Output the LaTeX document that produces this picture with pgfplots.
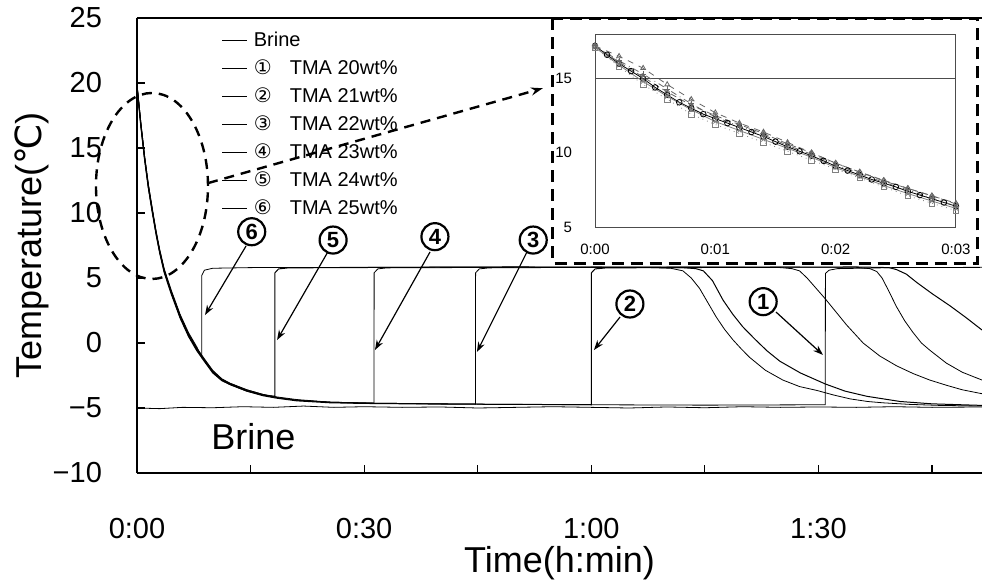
\documentclass[border=0pt]{standalone}
\usepackage{fontspec}
\setmainfont{Liberation Sans}
\newfontfamily\dejavu{DejaVu Sans}
\usepackage{pgfplots}
\pgfplotsset{compat=1.18}
\usetikzlibrary{calc,arrows.meta}

\begin{document}
\begin{tikzpicture}[
  circ/.style={circle, draw, line width=1.1pt, inner sep=0pt, minimum size=13.5pt,
               font=\bfseries\fontsize{11}{11}\selectfont},
  lab/.style={-{Stealth[length=5pt,width=3.5pt]}, line width=0.6pt},
]
\begin{axis}[
  name=main,
  scale only axis,
  width=422.5pt, height=227.5pt,
  xmin=0, xmax=111.6, ymin=-10, ymax=25,
  axis x line*=box, axis y line*=left,
  axis line style={line width=0.8pt},
  xtick={0,15,30,45,60,75,90,105},
  xticklabels={0:00,,0:30,,1:00,,1:30,},
  ytick={-10,-5,0,5,10,15,20,25},
  yticklabels={−10,−5,0,5,10,15,20,25},
  xtick pos=bottom, ytick pos=left, tick align=inside,
  major tick length=4pt,
  tick style={line width=0.6pt, black},
  ticklabel style={font=\fontsize{14.5}{16}\selectfont},
  xticklabel style={yshift=-19pt},
  yticklabel style={xshift=-14pt},
  xlabel={Time(h:min)},
  ylabel={Temperature({\dejavu ℃})},
  label style={font=\fontsize{18}{20}\selectfont},
  xlabel style={yshift=3pt},
  ylabel shift=-5pt,
  clip=false,
  cycle list={{black, solid, line width=0.5pt}},
  legend cell align=left,
  legend image code/.code={\draw[#1] (0pt,0pt) -- (12.5pt,0pt);},
  legend style={draw=none, fill=none, at={(0.100,0.976)}, anchor=north west,
    font=\fontsize{10}{11}\selectfont, row sep=2.5pt, inner sep=0pt,
    nodes={inner sep=1pt, text height=7.5pt, text depth=2pt}},
]
% Brine
\addplot coordinates {(0,-5.0)(3,-5.05)(6,-4.95)(10,-4.98)(14,-4.9)(18,-4.95)(22,-4.85)(26,-4.95)(30,-4.9)(35,-4.95)(40,-4.92)(45,-5.0)(50,-4.95)(55,-4.9)(60,-4.95)(65,-5.0)(70,-4.92)(75,-4.98)(80,-4.9)(85,-4.95)(90,-4.92)(95,-4.95)(100,-4.9)(105,-4.95)(111.6,-4.92)};
% 1: TMA 20wt%
\addplot coordinates {(0,19.8)(0.5,16.8)(1,14.2)(1.5,12.0)(2,10.2)(2.5,8.5)(3,7.0)(3.6,5.5)(4.5,3.9)(5.7,2.0)(6.8,0.6)(7.9,-0.5)(9,-1.4)(10,-2.2)(11.2,-2.8)(12.3,-3.15)(14.5,-3.65)(16.6,-4.0)(18.5,-4.2)(21.1,-4.4)(25.5,-4.55)(30,-4.62)(40,-4.68)(50,-4.72)(60,-4.75)(75,-4.78)(90.9,-4.75)(90.92,5.35)(91.4,5.6)(92.5,5.72)(100,5.8)(111.6,5.82)};
% 2: TMA 21wt%
\addplot coordinates {(0,19.7)(0.5,16.7)(1,14.1)(1.5,11.9)(2,10.1)(2.5,8.4)(3,6.9)(3.6,5.4)(4.5,3.8)(5.7,1.9)(6.8,0.5)(7.9,-0.6)(9,-1.5)(10,-2.3)(11.2,-2.9)(12.3,-3.2)(14.5,-3.7)(16.6,-4.05)(18.5,-4.25)(21.1,-4.45)(25.5,-4.6)(30,-4.65)(40,-4.7)(50,-4.72)(60,-4.75)(60.02,5.4)(60.5,5.7)(62,5.78)(80,5.82)(95,5.85)(99.3,5.8)(100.3,5.65)(101.6,5.3)(103,4.65)(105,3.8)(107.4,2.85)(109.5,1.95)(111.6,1.0)};
% 3: TMA 22wt%
\addplot coordinates {(0,19.8)(0.5,16.9)(1,14.3)(1.5,12.1)(2,10.3)(2.5,8.6)(3,7.1)(3.6,5.6)(4.5,4.0)(5.7,2.1)(6.8,0.7)(7.9,-0.4)(9,-1.3)(10,-2.1)(11.2,-2.75)(12.3,-3.1)(14.5,-3.6)(16.6,-3.95)(18.5,-4.15)(21.1,-4.35)(25.5,-4.55)(30,-4.62)(40,-4.68)(44.7,-4.7)(44.72,5.4)(45.2,5.7)(46.5,5.78)(60,5.82)(80,5.85)(95,5.82)(96.8,5.72)(97.7,5.5)(98.4,5.0)(99.2,4.1)(100.3,2.8)(101.4,1.7)(102.5,0.8)(103.6,0.0)(104.7,-0.55)(106.9,-1.55)(109,-2.25)(111.6,-2.85)};
% 4: TMA 23wt%
\addplot coordinates {(0,19.9)(0.5,17.0)(1,14.4)(1.5,12.2)(2,10.4)(2.5,8.6)(3,7.1)(3.6,5.6)(4.5,4.0)(5.7,2.1)(6.8,0.7)(7.9,-0.4)(9,-1.35)(10,-2.15)(11.2,-2.8)(12.3,-3.1)(14.5,-3.6)(16.6,-3.95)(18.5,-4.2)(21.1,-4.4)(25.5,-4.55)(31.3,-4.62)(31.32,5.4)(31.8,5.7)(33,5.78)(50,5.82)(70,5.85)(85,5.8)(86.5,5.72)(87.5,5.55)(88.5,5.0)(89.7,4.2)(90.9,3.4)(92.3,2.4)(93.7,1.4)(95.9,0.0)(98.1,-1.0)(100.3,-1.75)(102.5,-2.35)(104.7,-2.85)(106.9,-3.25)(109,-3.6)(111.6,-3.9)};
% 5: TMA 24wt%
\addplot coordinates {(0,19.8)(0.5,16.8)(1,14.2)(1.5,12.0)(2,10.2)(2.5,8.5)(3,7.0)(3.6,5.5)(4.5,3.9)(5.7,2.0)(6.8,0.6)(7.9,-0.5)(9,-1.45)(10,-2.25)(11.2,-2.85)(12.3,-3.2)(14.5,-3.7)(16.6,-4.0)(18.2,-4.1)(18.22,5.4)(18.7,5.7)(20,5.78)(35,5.82)(50,5.85)(65,5.82)(72,5.8)(73.8,5.72)(74.8,5.55)(76,4.8)(77.4,3.3)(78.7,2.2)(80,1.25)(81.6,0.3)(83.2,-0.6)(84.9,-1.4)(87.6,-2.3)(90.9,-3.15)(93.5,-3.7)(96.4,-4.1)(100.8,-4.5)(105,-4.68)(111.6,-4.8)};
% 6: TMA 25wt%
\addplot coordinates {(0,19.9)(0.5,17.0)(1,14.4)(1.5,12.2)(2,10.4)(2.5,8.7)(3,7.2)(3.6,5.7)(4.5,4.1)(5.7,2.2)(6.8,0.8)(7.9,-0.3)(8.55,-1.1)(8.56,5.2)(8.9,5.6)(10,5.75)(15,5.8)(30,5.82)(45,5.85)(60,5.82)(68,5.8)(70.5,5.75)(72.1,5.55)(73.2,5.0)(74.3,4.2)(75.4,3.1)(76.5,2.0)(77.6,1.05)(78.7,0.25)(79.8,-0.45)(80.9,-1.1)(83,-2.1)(85.3,-2.85)(87.5,-3.35)(89.8,-3.65)(92,-4.0)(94.2,-4.3)(96.5,-4.5)(98.5,-4.6)(102,-4.72)(106,-4.8)(111.6,-4.85)};
\legend{\hspace{2pt}Brine,
  {\hspace{2pt}{\dejavu ①}\hspace{9pt}TMA 20wt\%},
  {\hspace{2pt}{\dejavu ②}\hspace{9pt}TMA 21wt\%},
  {\hspace{2pt}{\dejavu ③}\hspace{9pt}TMA 22wt\%},
  {\hspace{2pt}{\dejavu ④}\hspace{9pt}TMA 23wt\%},
  {\hspace{2pt}{\dejavu ⑤}\hspace{9pt}TMA 24wt\%},
  {\hspace{2pt}{\dejavu ⑥}\hspace{9pt}TMA 25wt\%}}

% annotations
\node[anchor=west, font=\fontsize{18}{20}\selectfont] at (axis cs:8.9,-7.2) {Brine};
\draw[line width=1.2pt, dash pattern=on 5pt off 3.5pt] (axis cs:1.98,12.08) ellipse [x radius=28pt, y radius=46.5pt];
\draw[line width=1.2pt, dash pattern=on 5pt off 3.5pt, -{Stealth[length=6pt,width=4pt]}] (axis cs:9.38,12.3) -- (axis cs:53.6,19.6);
\draw[line width=1.5pt, dash pattern=on 6pt off 3.5pt] (axis cs:54.9,25) rectangle (axis cs:111.05,6.15);

\node[circ] at (axis cs:15.15,8.56) {6};
\node[circ] at (axis cs:25.9,7.92) {5};
\node[circ] at (axis cs:39.35,8.18) {4};
\node[circ] at (axis cs:52.33,7.92) {3};
\node[circ] at (axis cs:65.1,3.0) {2};
\node[circ] at (axis cs:82.7,3.18) {1};
\draw[lab] (axis cs:14.4,7.46) -- (axis cs:8.98,2.15);
\draw[lab] (axis cs:25.2,7.0) -- (axis cs:18.5,0.23);
\draw[lab] (axis cs:38.7,7.0) -- (axis cs:31.43,-0.54);
\draw[lab] (axis cs:51.5,7.0) -- (axis cs:44.9,-0.69);
\draw[lab] (axis cs:63.8,2.0) -- (axis cs:60.35,-0.54);
\draw[lab] (axis cs:84.4,2.38) -- (axis cs:90.6,-0.92);
\end{axis}

% inset
\begin{axis}[
  at={($(main.south west)+(229pt,123pt)$)}, anchor=south west,
  scale only axis,
  width=180.5pt, height=96.5pt,
  xmin=0, xmax=3, ymin=5, ymax=18,
  xtick={0,1,2,3}, xticklabels={0:00,0:01,0:02,0:03},
  ytick={5,10,15}, yticklabels={5,10,15},
  major tick length=0pt,
  axis line style={line width=0.5pt, black!70},
  ticklabel style={font=\fontsize{7.5}{8}\selectfont},
  xticklabel style={yshift=-5pt},
  yticklabel style={xshift=-8pt},
  every axis plot/.append style={line width=0.4pt, mark size=1.4pt},
]
\addplot[black!70, no markers] coordinates {(0,15)(3,15)};
\addplot[black, mark=o] coordinates {(0,17.2)(0.1,16.6)(0.2,16.0)(0.3,15.5)(0.4,15.0)(0.5,14.4)(0.6,13.9)(0.7,13.4)(0.8,13.0)(0.9,12.6)(1.0,12.3)(1.1,12.0)(1.2,11.7)(1.3,11.4)(1.4,11.1)(1.5,10.75)(1.6,10.4)(1.7,10.1)(1.8,9.8)(1.9,9.45)(2.0,9.1)(2.1,8.8)(2.2,8.5)(2.3,8.2)(2.4,7.95)(2.5,7.7)(2.6,7.4)(2.7,7.15)(2.8,6.9)(2.9,6.65)(3.0,6.4)};
\addplot[black!60, dashed, mark=triangle, mark options={solid}] coordinates {(0,17.2)(0.2,16.5)(0.4,15.7)(0.6,14.6)(0.8,13.6)(1.0,12.7)(1.2,12.0)(1.4,11.4)(1.6,10.7)(1.8,10.0)(2.0,9.3)(2.2,8.7)(2.4,8.1)(2.6,7.6)(2.8,7.1)(3.0,6.6)};
\addplot[black!50, dotted, mark=square, mark options={solid}] coordinates {(0,17.1)(0.2,15.8)(0.4,14.6)(0.6,13.6)(0.8,12.6)(1.0,11.9)(1.2,11.3)(1.4,10.7)(1.6,10.1)(1.8,9.5)(2.0,8.9)(2.2,8.3)(2.4,7.7)(2.6,7.1)(2.8,6.6)(3.0,6.1)};
\addplot[black!60, densely dashed, mark=diamond, mark options={solid}] coordinates {(0,17.2)(0.2,16.1)(0.4,15.1)(0.6,14.1)(0.8,13.2)(1.0,12.5)(1.2,11.9)(1.4,11.3)(1.6,10.6)(1.8,10.0)(2.0,9.3)(2.2,8.7)(2.4,8.15)(2.6,7.6)(2.8,7.1)(3.0,6.55)};
\addplot[black!50, mark=x] coordinates {(0,17.1)(0.2,15.9)(0.4,14.8)(0.6,13.8)(0.8,12.9)(1.0,12.1)(1.2,11.5)(1.4,10.9)(1.6,10.3)(1.8,9.7)(2.0,9.0)(2.2,8.4)(2.4,7.8)(2.6,7.25)(2.8,6.75)(3.0,6.25)};
\addplot[black!60, dash dot, mark=+, mark options={solid}] coordinates {(0,17.2)(0.2,16.2)(0.4,15.3)(0.6,14.3)(0.8,13.3)(1.0,12.4)(1.2,11.8)(1.4,11.2)(1.6,10.5)(1.8,9.9)(2.0,9.2)(2.2,8.6)(2.4,8.0)(2.6,7.5)(2.8,6.95)(3.0,6.4)};
\end{axis}

\pgfresetboundingbox
\path ($(main.south west)+(-68.5pt,-56pt)$) rectangle ($(main.south west)+(422.5pt,236.5pt)$);
\end{tikzpicture}
\end{document}
